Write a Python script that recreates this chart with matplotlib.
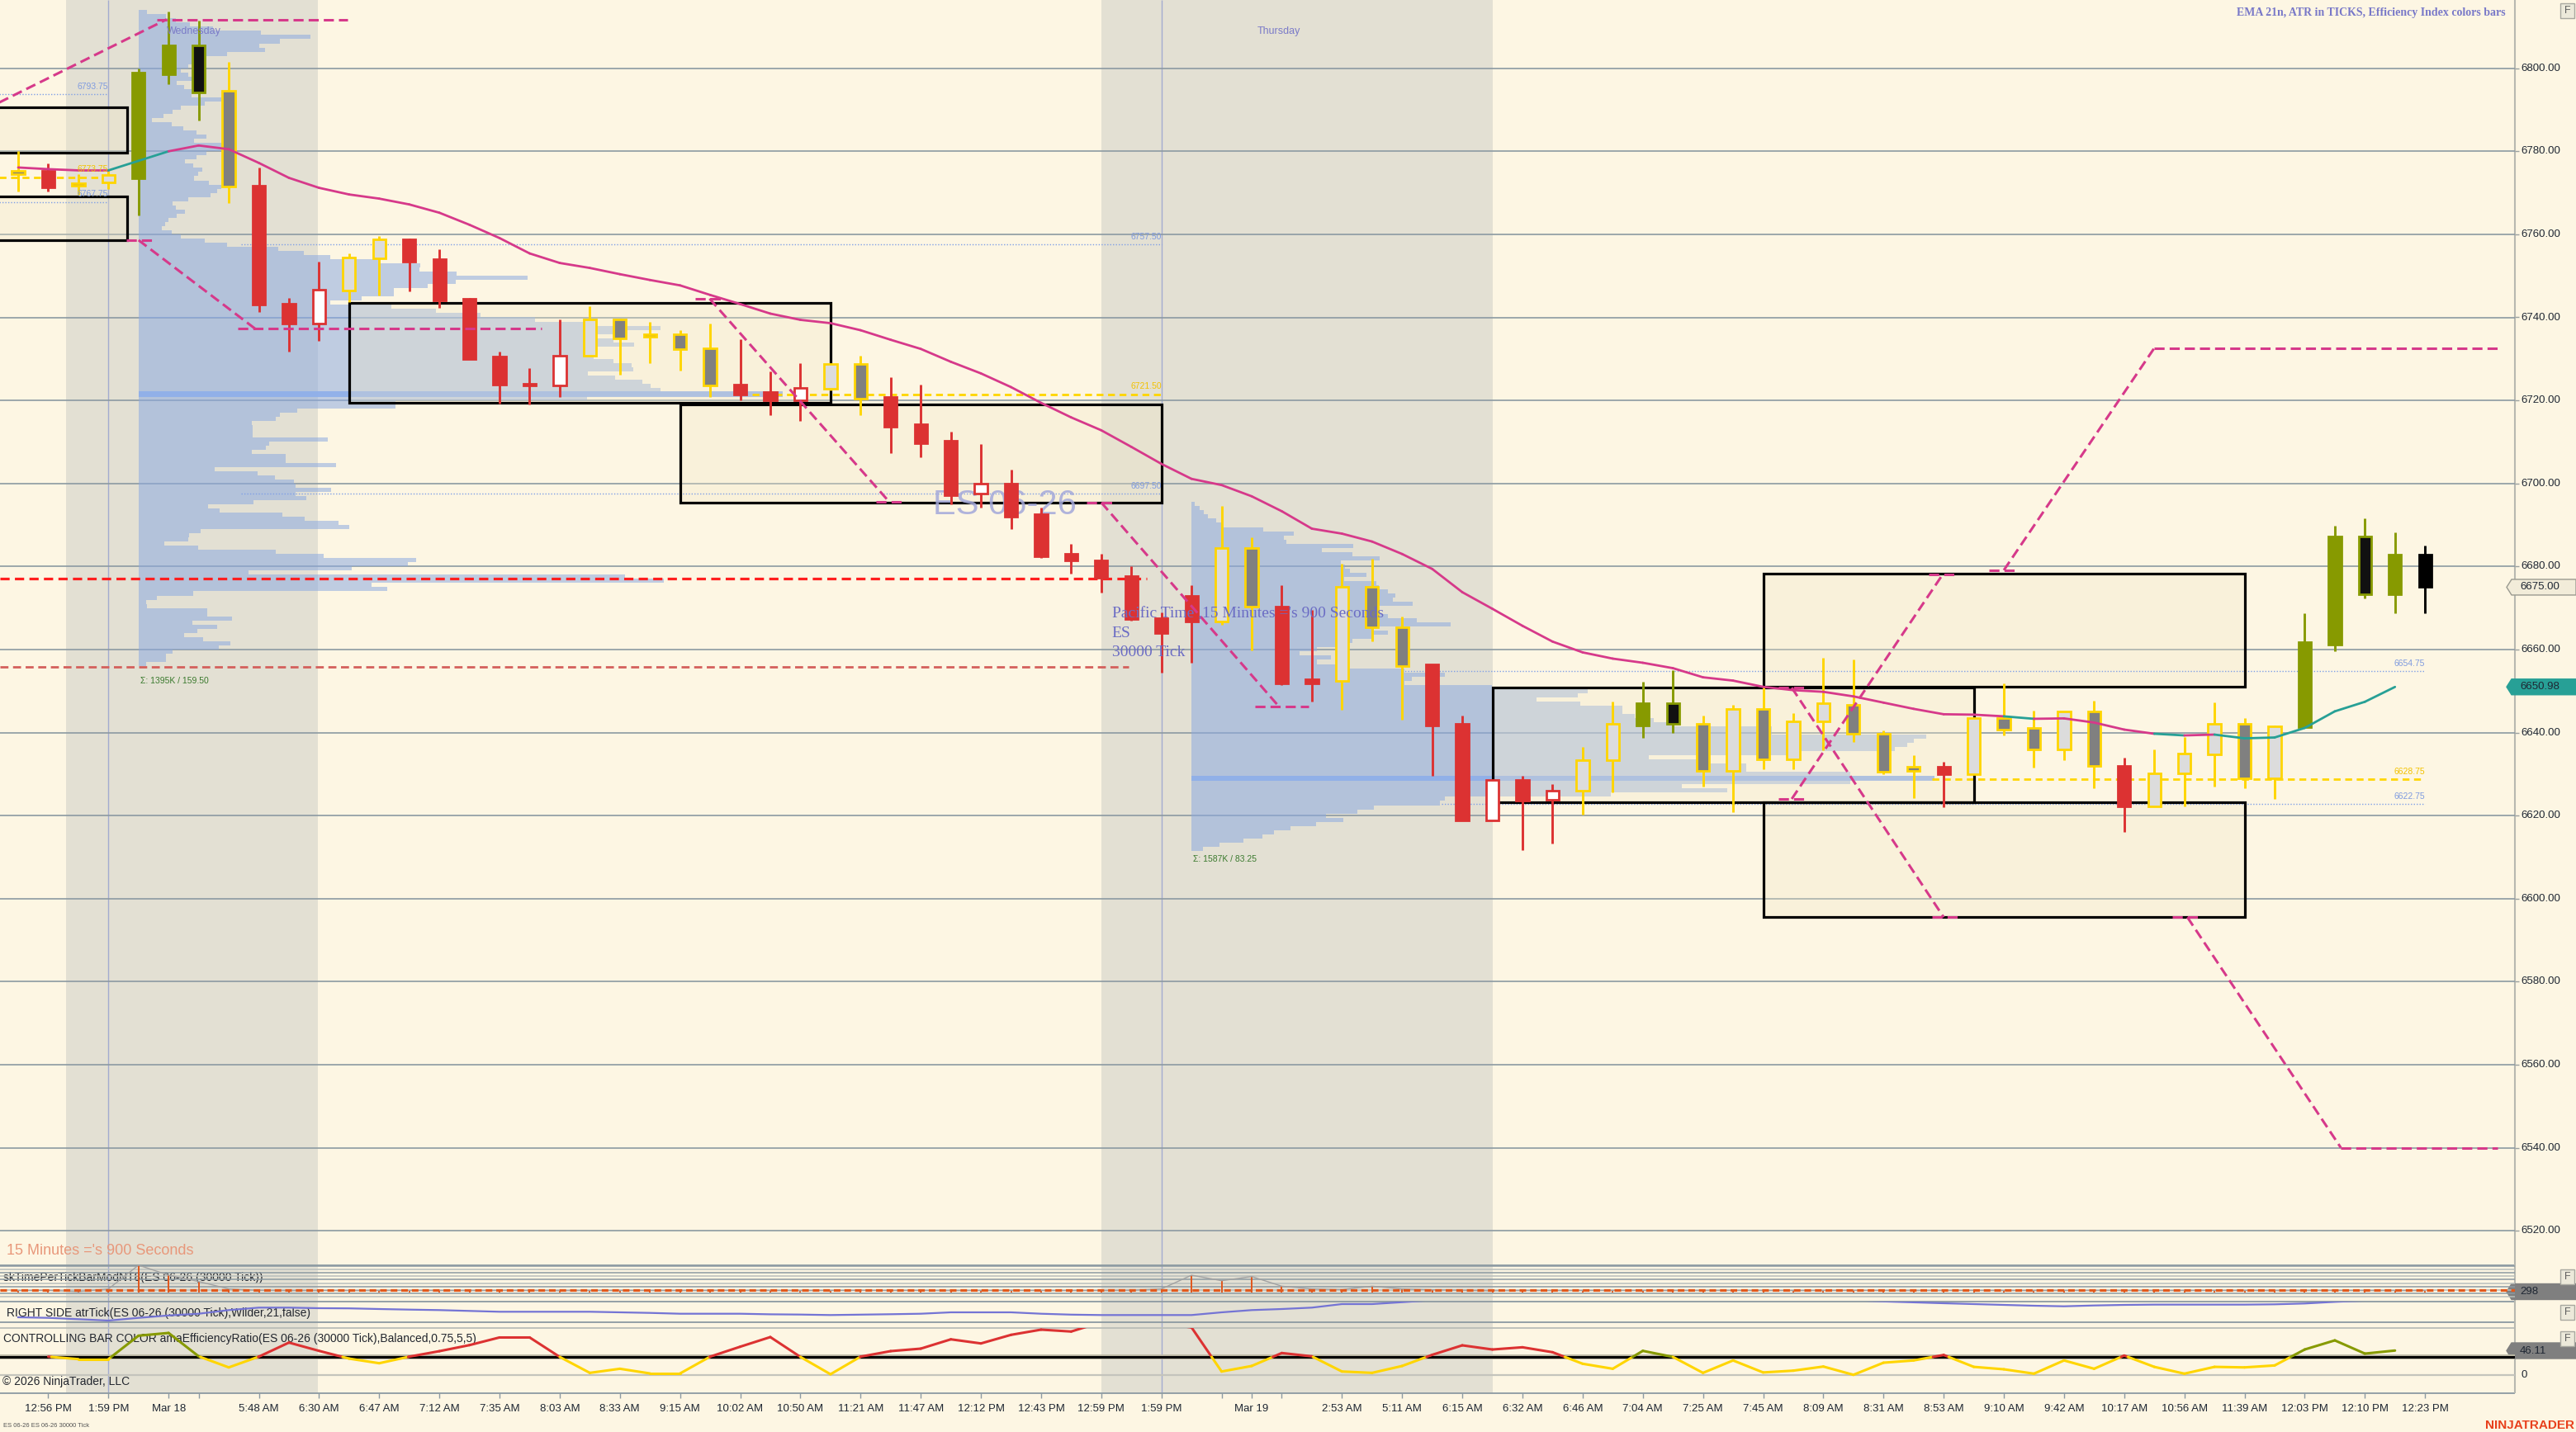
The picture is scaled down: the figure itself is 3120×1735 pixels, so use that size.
import numpy as np
import matplotlib
matplotlib.use("Agg")
import matplotlib.pyplot as plt
from matplotlib.patches import Rectangle, Polygon
from matplotlib.collections import LineCollection
from matplotlib import font_manager as fm

# ====================== DATA ======================
bar_state = ["y","r","y","y","g","g","g","y","r","r",
             "r","y","y","r","r","r","r","r","r","y",
             "y","y","y","y","r","r","r","y","y","r",
             "r","r","r","r","r","r","r","r","r","r",
             "y","y","r","r","y","y","y","r","r","r",
             "r","r","y","y","g","g","y","y","y","y",
             "y","y","y","y","r","y","y","y","y","y",
             "r","y","y","y","y","y","g","g","g","g","k"]

opens = [6775.25, 6775.25, 6772.25, 6772.5, 6773.5, 6798.5, 6805.5, 6794.5, 6771.75, 6743.25,
         6738.5, 6746.5, 6754.25, 6758.75, 6754.0, 6744.5, 6730.5, 6724.0, 6723.5, 6730.75,
         6739.5, 6736.0, 6736.0, 6732.5, 6723.75, 6722.0, 6720.0, 6722.75, 6728.75, 6720.75,
         6714.25, 6710.25, 6697.5, 6700.0, 6692.5, 6683.0, 6681.5, 6677.75, 6667.5, 6673.0,
         6666.75, 6684.5, 6670.25, 6652.75, 6652.5, 6675.0, 6665.25, 6656.5, 6642.0, 6618.75,
         6628.5, 6623.75, 6626.0, 6633.25, 6641.75, 6647.0, 6642.0, 6630.75, 6645.75, 6633.5,
         6642.75, 6646.75, 6639.75, 6631.75, 6631.75, 6630.0, 6643.5, 6641.0, 6636.0, 6645.0,
         6632.0, 6622.25, 6630.25, 6634.75, 6642.0, 6629.0, 6641.25, 6661.25, 6687.25, 6673.25,
         6682.75]
highs = [6780.0, 6777.0, 6774.5, 6775.25, 6800.0, 6813.75, 6811.5, 6801.5, 6776.0, 6744.75,
         6753.5, 6755.5, 6759.5, 6759.0, 6756.5, 6744.75, 6731.75, 6727.75, 6739.5, 6742.75,
         6739.75, 6739.0, 6737.0, 6738.5, 6734.75, 6727.0, 6729.0, 6729.0, 6730.75, 6725.5,
         6723.75, 6712.5, 6709.5, 6703.25, 6694.25, 6685.5, 6683.0, 6680.0, 6669.0, 6675.5,
         6694.5, 6687.0, 6675.5, 6669.5, 6680.75, 6681.75, 6668.0, 6656.5, 6644.0, 6628.75,
         6629.5, 6627.5, 6636.5, 6647.5, 6652.25, 6655.0, 6644.0, 6646.75, 6651.0, 6644.75,
         6658.0, 6657.5, 6640.5, 6634.5, 6633.0, 6643.5, 6651.75, 6645.25, 6645.0, 6647.75,
         6634.0, 6636.0, 6639.0, 6647.25, 6643.5, 6641.75, 6668.75, 6689.75, 6691.5, 6688.25,
         6685.0]
lows = [6770.25, 6770.25, 6769.5, 6771.0, 6764.5, 6796.25, 6787.5, 6767.5, 6741.25, 6731.75,
        6734.25, 6743.75, 6745.25, 6746.25, 6742.25, 6730.0, 6719.25, 6719.0, 6720.75, 6730.5,
        6726.25, 6729.0, 6727.25, 6720.75, 6720.0, 6716.5, 6715.0, 6722.5, 6716.5, 6707.25,
        6706.25, 6695.0, 6694.25, 6689.0, 6682.0, 6678.25, 6673.75, 6667.0, 6654.5, 6656.75,
        6666.0, 6659.75, 6651.5, 6647.5, 6645.5, 6662.0, 6643.0, 6629.5, 6618.75, 6618.75,
        6611.75, 6613.25, 6620.25, 6625.5, 6638.75, 6640.0, 6627.0, 6620.75, 6631.25, 6631.25,
        6635.75, 6637.75, 6630.0, 6624.25, 6622.0, 6630.0, 6639.25, 6631.5, 6633.25, 6626.5,
        6616.0, 6622.25, 6622.25, 6627.0, 6626.5, 6624.0, 6641.25, 6659.5, 6672.25, 6668.75,
        6668.75]
closes = [6774.5, 6771.25, 6771.75, 6774.25, 6799.0, 6805.5, 6794.25, 6771.5, 6743.0, 6738.5,
          6746.75, 6754.5, 6758.75, 6753.5, 6744.0, 6730.0, 6723.75, 6723.5, 6730.75, 6739.5,
          6735.0, 6735.25, 6732.25, 6723.5, 6721.5, 6720.0, 6723.0, 6728.75, 6720.5, 6713.75,
          6709.75, 6697.25, 6700.0, 6692.0, 6682.5, 6681.5, 6677.25, 6667.25, 6664.0, 6666.75,
          6684.5, 6670.25, 6651.75, 6651.75, 6675.0, 6665.25, 6656.0, 6641.75, 6618.75, 6628.5,
          6623.5, 6626.0, 6633.25, 6642.0, 6647.0, 6642.0, 6630.75, 6645.75, 6633.5, 6642.75,
          6647.0, 6639.75, 6630.5, 6630.75, 6630.0, 6643.5, 6640.75, 6636.0, 6645.0, 6632.0,
          6622.25, 6630.25, 6635.0, 6642.0, 6629.0, 6641.5, 6661.75, 6687.25, 6673.25, 6682.75,
          6675.0]

ema21 = [6776.1, 6775.7, 6775.4, 6775.4, 6777.7, 6780.0, 6781.4, 6780.5, 6777.2, 6773.6,
         6771.2, 6769.6, 6768.6, 6767.2, 6765.2, 6762.3, 6759.1, 6755.4, 6753.1, 6751.9,
         6750.4, 6749.0, 6747.7, 6745.4, 6743.2, 6740.9, 6739.4, 6738.6, 6736.9, 6734.6,
         6732.4, 6729.3, 6726.5, 6723.2, 6719.4, 6715.9, 6712.8, 6708.8, 6704.7, 6701.1,
         6699.6, 6696.9, 6693.3, 6689.1, 6687.9, 6686.0, 6683.0, 6679.4, 6673.8, 6669.8,
         6665.7, 6661.9, 6659.3, 6657.8, 6656.8, 6655.5, 6653.3, 6652.5, 6651.0, 6650.2,
         6649.8, 6648.7, 6647.2, 6645.7, 6644.4, 6644.3, 6643.9, 6643.3, 6643.4, 6642.4,
         6640.7, 6639.7, 6639.3, 6639.5, 6638.6, 6638.8, 6641.1, 6645.1, 6647.4, 6650.98]
ema_teal_segments = [3, 4, 66, 71, 73, 74, 75, 76, 77, 78]

time_per_tick = [290, 292, 276, 314, 660, 514, 422, 314, 294, 290,
                 291, 289, 290, 292, 290, 289, 291, 290, 288, 290,
                 291, 290, 289, 290, 291, 290, 289, 290, 292, 290,
                 291, 289, 290, 291, 290, 289, 290, 294, 314, 514,
                 434, 494, 354, 314, 305, 354, 314, 302, 294, 286,
                 290, 289, 290, 291, 290, 289, 290, 291, 290, 289,
                 290, 291, 290, 289, 290, 291, 290, 289, 290, 291,
                 290, 289, 290, 291, 290, 289, 290, 291, 290, 289, 290]
tpt_level = 298

atr_ticks = [72.6, 71.2, 68.0, 64.6, 71.2, 77.0, 81.2, 90.0, 96.0, 96.0,
             94.6, 94.2, 92.6, 91.2, 90.0, 88.0, 86.0, 86.0, 86.0, 86.0,
             84.6, 83.2, 81.2, 81.2, 81.2, 79.8, 79.2, 78.0, 79.0, 80.0,
             81.2, 84.6, 84.6, 84.6, 81.2, 79.0, 78.0, 78.0, 78.0, 78.0,
             84.6, 90.0, 92.6, 96.0, 104.6, 104.6, 109.2, 114.0, 118.0, 121.0,
             123.0, 124.0, 125.0, 124.0, 123.0, 122.0, 121.0, 120.0, 118.0, 117.0,
             116.0, 114.0, 111.0, 108.8, 106.6, 104.6, 102.6, 100.6, 99.2, 101.2,
             102.6, 103.3, 103.3, 103.3, 103.3, 104.0, 106.0, 110.0, 113.0, 116.0, 118.0]

eff_ratio = [np.nan, 34.5, 29.8, 29.8, 74.3, 79.5, 35.1, 14.1, 34.5, 61.2,
             45.5, 30.8, 22.0, 34.5, 44.9, 56.4, 71.0, 71.0, 34.0, 3.7,
             11.5, 2.6, 2.6, 34.5, 53.4, 71.7, 34.0, 1.1, 34.5, 45.0,
             49.7, 67.4, 59.6, 75.9, 85.8, 82.2, 100.0, 105.0, 98.0, 90.0,
             6.3, 16.8, 41.4, 35.1, 6.3, 3.7, 16.8, 38.0, 56.0, 48.1,
             52.3, 42.9, 21.0, 11.5, 45.5, 34.0, 3.7, 27.3, 4.5, 7.9,
             15.7, 0.0, 23.0, 27.3, 37.7, 15.1, 10.5, 2.2, 27.3, 11.5,
             36.6, 15.1, 2.2, 15.1, 14.1, 17.8, 48.1, 65.4, 40.3, 46.11, np.nan]
er_threshold = 34.0

# volume profiles (width units = pixels of profile length)
p1_start_bar = 4.0
p1_top = 6813.5
p1_vol = [10, 33, 45, 62, 90, 148, 208, 171, 146, 153,
          107, 82, 72, 60, 51, 60, 72, 46, 55, 64,
          64, 100, 80, 51, 41, 30, 16, 40, 54, 70,
          82, 67, 118, 102, 82, 70, 56, 66, 77, 72,
          67, 85, 100, 95, 87, 60, 41, 45, 56, 46,
          36, 32, 28, 40, 51, 80, 107, 169, 200, 232,
          290, 341, 340, 385, 471, 384, 350, 309, 309, 270,
          232, 306, 360, 414, 480, 546, 632, 590, 551, 575,
          600, 544, 548, 551, 575, 597, 599, 544, 577, 610,
          620, 632, 780, 543, 311, 311, 192, 171, 166, 137,
          138, 138, 138, 229, 158, 154, 137, 178, 178, 239,
          92, 144, 165, 188, 190, 233, 190, 203, 139, 84,
          98, 174, 201, 242, 255, 75, 61, 60, 31, 72,
          166, 224, 336, 326, 258, 133, 589, 636, 282, 301,
          66, 22, 9, 10, 83, 83, 113, 65, 95, 71,
          55, 78, 111, 97, 41, 33, 33, 9]
p1_label = "\u03a3: 1395K / 159.50"

p2_start_bar = 39.0
p2_top = 6695.0
p2_vol = [4, 10, 15, 20, 30, 37, 87, 124, 112, 115,
          196, 158, 195, 228, 181, 186, 192, 212, 185, 224,
          227, 238, 247, 244, 268, 221, 221, 238, 273, 314,
          221, 238, 221, 195, 186, 152, 131, 169, 152, 186,
          258, 307, 267, 258, 364, 480, 468, 418, 471, 522,
          522, 537, 560, 583, 703, 703, 890, 875, 867, 852,
          738, 554, 628, 672, 672, 798, 900, 798, 594, 649,
          508, 307, 301, 221, 201, 163, 184, 151, 120, 100,
          86, 63, 34, 14]
p2_label = "\u03a3: 1587K / 83.25"

# rectangles: (bar_from, bar_to, price_low, price_high)
zones = [(-2.0, 3.62, 6779.75, 6790.5), (-2.0, 3.62, 6758.6, 6769.1),
         (11.0, 27.0, 6719.5, 6743.5), (22.0, 38.0, 6695.4, 6719.1),
         (49.0, 65.0, 6623.3, 6650.8), (58.0, 74.0, 6651.0, 6678.3),
         (58.0, 74.0, 6595.5, 6623.3)]

# dashed swing-projection drawings (bar, price) anchor pairs
swing_x = [(-0.7, 4.93), (4.6, 10.95), (3.6, 4.45), (4.0, 7.87), (7.3, 17.4),
           (22.5, 23.4), (22.98, 28.96), (28.5, 29.4), (35.5, 36.4), (36.0, 41.9),
           (41.1, 42.9), (58.5, 59.4), (58.95, 64.0), (63.6, 64.5), (58.5, 59.4),
           (58.95, 63.96), (63.5, 64.4), (65.5, 66.4), (66.0, 71.0), (71.0, 82.4),
           (71.6, 72.5), (72.1, 77.2), (77.2, 82.4)]
swing_p = [(6791.5, 6811.75), (6811.75, 6811.75), (6758.6, 6758.6), (6758.6, 6737.3), (6737.3, 6737.3),
           (6744.5, 6744.5), (6744.5, 6695.5), (6695.5, 6695.5), (6695.4, 6695.4), (6695.4, 6646.3),
           (6646.3, 6646.3), (6650.8, 6650.8), (6650.8, 6595.5), (6595.5, 6595.5), (6624.0, 6624.0),
           (6624.0, 6678.0), (6678.0, 6678.0), (6679.1, 6679.1), (6679.1, 6732.6), (6732.6, 6732.6),
           (6595.5, 6595.5), (6595.5, 6540.0), (6540.0, 6540.0)]

# horizontal level lines: price, from bar, to bar, kind
level_price = [6793.75, 6773.75, 6767.75, 6757.50, 6721.50, 6697.50, 6654.75, 6628.75, 6622.75]
level_from = [-0.7, -0.7, -0.7, 7.4, 24.4, 7.4, 46.0, 63.6, 47.3]
level_to = [3.0, 3.0, 3.0, 38.0, 38.0, 38.0, 80.0, 80.0, 80.0]
level_kind = ["b", "y", "b", "b", "y", "b", "b", "y", "b"]

red_line_price = 6677.0
red_line_to = 37.5
dark_red_line_price = 6655.75
dark_red_line_to = 36.9

session_shade = [(1.59, 9.95), (36.0, 49.0)]
session_marks = [3, 38]

tick_bars = [1, 3, 5, 6, 8, 10, 12, 14, 16, 18, 20, 22, 24, 26, 28, 30, 32, 34, 36, 38,
             40, 41, 42, 44, 46, 48, 50, 52, 54, 56, 58, 60, 62, 64, 66, 68, 70, 72, 74, 76, 78, 80]
tick_labels = ["12:56 PM", "1:59 PM", "Mar 18", "", "5:48 AM", "6:30 AM", "6:47 AM", "7:12 AM",
               "7:35 AM", "8:03 AM", "8:33 AM", "9:15 AM", "10:02 AM", "10:50 AM", "11:21 AM",
               "11:47 AM", "12:12 PM", "12:43 PM", "12:59 PM", "1:59 PM", "", "Mar 19", "",
               "2:53 AM", "5:11 AM", "6:15 AM", "6:32 AM", "6:46 AM", "7:04 AM", "7:25 AM",
               "7:45 AM", "8:09 AM", "8:31 AM", "8:53 AM", "9:10 AM", "9:42 AM", "10:17 AM",
               "10:56 AM", "11:39 AM", "12:03 PM", "12:10 PM", "12:23 PM"]
price_ticks = list(range(6520, 6801, 20))
last_price = 6675.00
last_ema = 6650.98

# ====================== STYLE ======================
avail = {f.name for f in fm.fontManager.ttflist}
SANS = "Liberation Sans" if "Liberation Sans" in avail else "DejaVu Sans"
SERIF = "Liberation Serif" if "Liberation Serif" in avail else "DejaVu Serif"
plt.rcParams["font.family"] = [SANS, "DejaVu Sans"]

W, H, DPI = 3120, 1735, 100
PXB = 36.44                 # pixels per bar
X0 = -22.0 / PXB            # bar value at left edge
X1 = X0 + 3046 / PXB        # bar value at price-axis line
P_TOP = 6800 + 82.7 / 5.03
P_BOT = 6800 - (1533 - 82.7) / 5.03

BG = "#fdf6e3"
GRAY = "#e3e0d3"
GRID = "#8c9aa2"
RED = "#dc3232"
OLIVE = "#879a00"
GOLD = "#ffd500"
PINK = "#d6398a"
TEAL = "#27a096"
PROF = (140/255, 170/255, 225/255)
TXT = "#1f2733"


def py(p):
    return 82.7 + (6800 - p) * 5.03


def bx(px):
    return X0 + px / PXB


def rect(x0, y0, x1, y1):
    return [x0 / W, 1 - y1 / H, (x1 - x0) / W, (y1 - y0) / H]


fig = plt.figure(figsize=(W / DPI, H / DPI), dpi=DPI, facecolor=BG)

# background / chrome axis in (bar, pixel-y) coordinates
axbg = fig.add_axes([0, 0, 1, 1], zorder=0)
axbg.set_xlim(X0, X0 + W / PXB)
axbg.set_ylim(H, 0)
axbg.axis("off")
for a, b in session_shade:
    axbg.add_patch(Rectangle((a, 0), b - a, 1688.3, color=GRAY, lw=0))
axbg.vlines(session_marks, 0, 1688.3, color="#a3abd0", lw=1.0)
for y, c, lw in [(1533.3, GRID, 1.3), (1577.3, GRID, 1.3), (1602.3, GRID, 1.3),
                 (1609.0, "#b9bdb8", 1.3), (1688.3, GRID, 1.3)]:
    axbg.hlines(y, X0, X1, color=c, lw=lw)
axbg.vlines(X1, 0, 1688.3, color="#b7b8b0", lw=1.5)

# ---- main price panel ----
ax = fig.add_axes(rect(0, 0, 3046, 1533), zorder=2)
ax.set_facecolor("none")
ax.set_xlim(X0, X1)
ax.set_ylim(P_BOT, P_TOP)
ax.axis("off")
ax.hlines(price_ticks, X0, X1, color=GRID, lw=1.2, zorder=1)

# volume profiles
for start, top, vols, lab, lab_px in [(p1_start_bar, p1_top, p1_vol, p1_label, 825),
                                      (p2_start_bar, p2_top, p2_vol, p2_label, 1041)]:
    vols = np.array(vols, dtype=float)
    lv = top - np.arange(len(vols))
    ax.barh(lv, vols / PXB, height=1.0, left=start, color=PROF, alpha=0.55, lw=0, zorder=2)
    k = int(np.argmax(vols))
    ax.barh(lv[k], vols[k] / PXB, height=1.3, left=start, color="#8eaeea", alpha=0.9, lw=0, zorder=2.1)
    ax.text(start + 0.05, 6800 - (lab_px - 82.7) / 5.03, lab, color="#3b7a2e",
            fontsize=7.5, va="center", ha="left", zorder=9)

# zones
for x0, x1, lo, hi in zones:
    ax.add_patch(Rectangle((x0, lo), x1 - x0, hi - lo, facecolor="#f3e8c8", alpha=0.3,
                           lw=0, zorder=3))
    ax.add_patch(Rectangle((x0, lo), x1 - x0, hi - lo, facecolor="none", edgecolor="black",
                           lw=2.3, zorder=4.5))

# level lines
for p, a, b, k in zip(level_price, level_from, level_to, level_kind):
    if k == "y":
        ax.hlines(p, a, b, color=GOLD, lw=2.0, linestyles=(0, (3, 2)), zorder=4)
        tc = "#f2c200"
    else:
        ax.hlines(p, a, b, color="#7f9fe6", lw=1.0, linestyles=(0, (1, 1.5)), zorder=4)
        tc = "#7f9be0"
    ax.text(b, p + 0.9, f"{p:.2f}", color=tc, fontsize=7.5, ha="right", va="bottom", zorder=9)

ax.hlines(red_line_price, X0, red_line_to, color="#ff1e1e", lw=2.3,
          linestyles=(0, (3.5, 2)), zorder=4)
ax.hlines(dark_red_line_price, X0, dark_red_line_to, color="#d4605c", lw=2.0,
          linestyles=(0, (3.5, 2)), zorder=4)

# watermark
ax.text(32.8, 6694.8, "ES 06-26", fontsize=30, color="#a3a8da", alpha=0.85,
        ha="center", va="center", zorder=4.8)

# candles
bw = 0.42
for i in range(len(opens)):
    o, h, l, c = opens[i], highs[i], lows[i], closes[i]
    s = bar_state[i]
    up = c >= o
    if s == "r":
        ec = RED
        fc = "white" if up else RED
    elif s == "g":
        ec = OLIVE
        fc = OLIVE if up else "#111111"
    elif s == "y":
        ec = GOLD
        fc = "#dcdcdc" if up else "#808080"
    else:
        ec = "black"
        fc = "black"
    ax.vlines(i, l, h, color=ec, lw=2.1, zorder=6)
    lo, hi = min(o, c), max(o, c)
    ax.add_patch(Rectangle((i - bw / 2, lo), bw, max(hi - lo, 0.35), facecolor=fc,
                           edgecolor=ec, lw=2.0, zorder=7))

# EMA
segs, cols = [], []
for i in range(1, len(ema21)):
    segs.append([(i - 1, ema21[i - 1]), (i, ema21[i])])
    cols.append(TEAL if (i - 1) in ema_teal_segments else PINK)
ax.add_collection(LineCollection(segs, colors=cols, lw=2.0, zorder=8, capstyle="round"))

# swing drawings
for xs, ps in zip(swing_x, swing_p):
    ax.plot(xs, ps, color=PINK, lw=2.2, linestyle=(0, (4, 2)), zorder=8.5,
            solid_capstyle="butt")

# texts on main panel
ax.text(5.85, 6808.8, "Wednesday", color="#7b7bc8", fontsize=9, ha="center", va="center", zorder=9)
ax.text(41.9, 6808.8, "Thursday", color="#7b7bc8", fontsize=9, ha="center", va="center", zorder=9)
for txt, ypx in [("Pacific Time ,15 Minutes ='s 900 Seconds", 744), ("ES", 767), ("30000 Tick", 790)]:
    ax.text(36.35, 6800 - (ypx - 82.7) / 5.03, txt, family=SERIF, fontsize=14,
            color="#6b6cc4", ha="left", va="center", zorder=9)

# ---- chrome texts ----
fig.text(3035 / W, 1 - 16 / H, "EMA 21n, ATR in TICKS, Efficiency Index colors bars",
         family=SERIF, fontweight="bold", fontsize=10, color="#7878c8", ha="right", va="center")
for p in price_ticks:
    axbg.text(bx(3053), py(p), f"{p:.2f}", fontsize=9.5, color=TXT, ha="left", va="center")
    axbg.hlines(py(p), X1, bx(3051), color="#9aa0a0", lw=1.0)


def tag(ycen, text, fc, ec, tc=TXT, h=9.5):
    pts = [(bx(3036), ycen), (bx(3042), ycen - h), (bx(3120), ycen - h),
           (bx(3120), ycen + h), (bx(3042), ycen + h)]
    axbg.add_patch(Polygon(pts, closed=True, facecolor=fc, edgecolor=ec, lw=1.0, zorder=5))
    axbg.text(bx(3052), ycen, text, fontsize=9.5, color=tc, ha="left", va="center", zorder=6)


tag(py(last_price), f"{last_price:.2f}", "#f2ecd9", "#9a9a90")
tag(py(last_ema), f"{last_ema:.2f}", TEAL, TEAL)
tag(1565, f"{tpt_level}", "#7f7f7f", "#7f7f7f")
tag(1636.5, f"{eff_ratio[79]:.2f}", "#7f7f7f", "#7f7f7f")
axbg.text(bx(3053), 1666, "0", fontsize=9.5, color=TXT, ha="left", va="center")

for y0, y1 in [(4, 22), (1538, 1556), (1581, 1599), (1613, 1631)]:
    axbg.add_patch(Rectangle((bx(3101), y0), 17 / PXB, y1 - y0, facecolor="#ece9da",
                             edgecolor="#a8a8a0", lw=1.0, zorder=5))
    axbg.text(bx(3109.5), (y0 + y1) / 2, "F", fontsize=9, color="#606060", ha="center",
              va="center", zorder=6)

axbg.text(bx(8), 1515, "15 Minutes ='s 900 Seconds", fontsize=13, color="#e8977a",
          ha="left", va="center")
axbg.text(bx(4), 1547.5, "skTimePerTickBarModNT8(ES 06-26 (30000 Tick))", fontsize=10,
          color="#22262e", ha="left", va="center", zorder=7)
axbg.text(bx(8), 1590.5, "RIGHT SIDE atrTick(ES 06-26 (30000 Tick),Wilder,21,false)", fontsize=10,
          color="#22262e", ha="left", va="center", zorder=7)
axbg.text(bx(4), 1622.3,
          "CONTROLLING BAR COLOR amaEfficiencyRatio(ES 06-26 (30000 Tick),Balanced,0.75,5,5)",
          fontsize=10, color="#22262e", ha="left", va="center", zorder=7)
axbg.text(bx(3), 1673.5, "\u00a9 2026 NinjaTrader, LLC", fontsize=10, color="#22262e",
          ha="left", va="center", zorder=7)
axbg.text(bx(4), 1727, "ES 06-26 ES 06-26 30000 Tick", fontsize=5.5, color="#555555",
          ha="left", va="center")
axbg.text(bx(3118), 1727, "NINJATRADER", fontsize=11, fontweight="bold", color="#e8401c",
          ha="right", va="center")

axbg.vlines(tick_bars, 1688.3, 1694, color=GRID, lw=1.0)
for b, lab in zip(tick_bars, tick_labels):
    if lab:
        axbg.text(b, 1707, lab, fontsize=9.5, color=TXT, ha="center", va="center")

# ---- panel 1: time per tick ----
ax1 = fig.add_axes(rect(0, 1533, 3046, 1573), zorder=3)
ax1.set_facecolor("none")
ax1.set_xlim(X0, X1)
ax1.set_ylim(178, 658)
ax1.axis("off")
for j, v in enumerate(range(200, 651, 50)):
    ax1.axhline(v, color=GRID if j % 2 else "#b9bfbc", lw=1.1, zorder=1)
xs = np.arange(len(time_per_tick))
ax1.vlines(xs, 266, time_per_tick, color="#e0561c", lw=1.4, zorder=2)
ax1.plot(xs, time_per_tick, color="#a2a2a2", lw=1.0, zorder=3)
ax1.axhline(tpt_level, color="#e25a1e", lw=2.3, linestyle=(0, (2.5, 1.5)), zorder=4)

# ---- panel 2: ATR ----
ax2 = fig.add_axes(rect(0, 1577.3, 3046, 1602.3), zorder=3)
ax2.set_facecolor("none")
ax2.set_xlim(X0, X1)
ax2.set_ylim(60, 110)
ax2.axis("off")
ax2.plot(np.arange(len(atr_ticks)), atr_ticks, color="#7474d4", lw=1.6, zorder=3)

# ---- panel 3: efficiency ratio ----
ax3 = fig.add_axes(rect(0, 1609, 3046, 1688.3), zorder=3)
ax3.set_facecolor("none")
ax3.set_xlim(X0, X1)
ax3.set_ylim(-35.4, 88.9)
ax3.axis("off")
ax3.axhline(0, color="#c4c4bc", lw=1.6, zorder=1)
ax3.axhline(er_threshold, color="#bdb9a6", lw=4.2, zorder=1)
ax3.axhline(er_threshold, color="black", lw=2.2, zorder=2)


def above_col(s):
    return OLIVE if s == "g" else RED


esegs, ecols = [], []
for i in range(1, len(eff_ratio)):
    a, b = eff_ratio[i - 1], eff_ratio[i]
    if np.isnan(a) or np.isnan(b):
        continue
    ca, cb = above_col(bar_state[i - 1]), above_col(bar_state[i])
    aa, ba = a >= er_threshold, b >= er_threshold
    if aa == ba:
        esegs.append([(i - 1, a), (i, b)])
        ecols.append(cb if ba else GOLD)
    else:
        xm = (i - 1) + (er_threshold - a) / (b - a)
        esegs.append([(i - 1, a), (xm, er_threshold)])
        ecols.append(ca if aa else GOLD)
        esegs.append([(xm, er_threshold), (i, b)])
        ecols.append(cb if ba else GOLD)
ax3.add_collection(LineCollection(esegs, colors=ecols, lw=2.2, zorder=3, capstyle="round"))

fig.savefig("out.png", dpi=DPI, facecolor=BG)
